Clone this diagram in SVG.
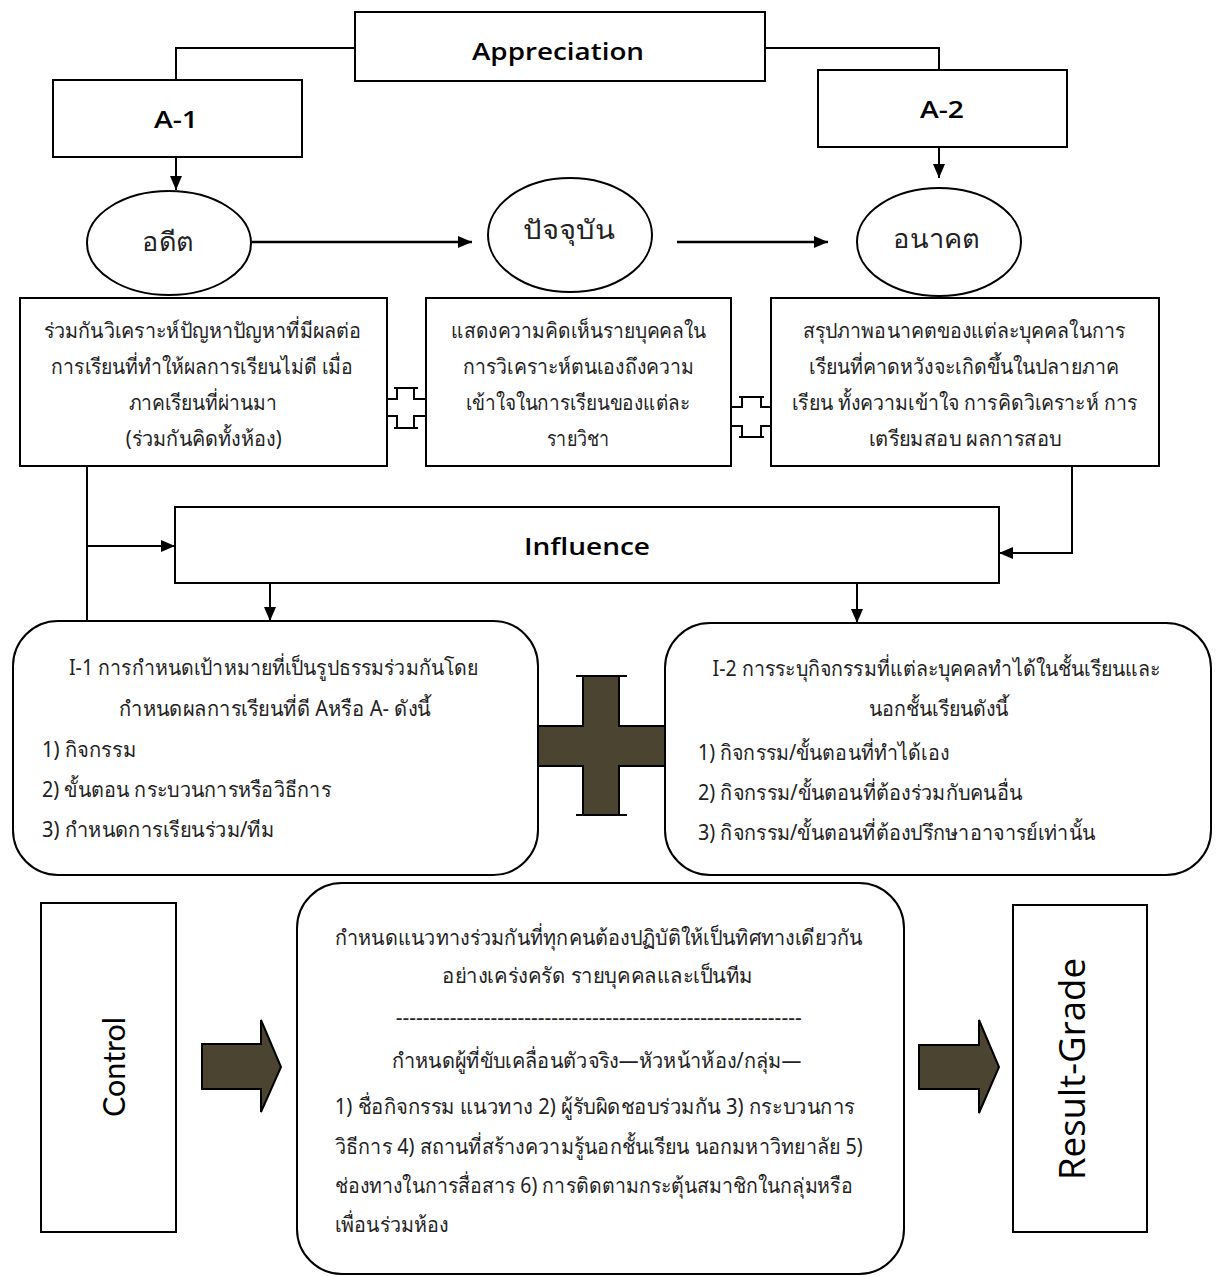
<svg xmlns="http://www.w3.org/2000/svg" width="1219" height="1276" viewBox="0 0 1219 1276">
<defs>
<marker id="ah" markerWidth="14" markerHeight="12" refX="14" refY="6" orient="auto" markerUnits="userSpaceOnUse"><path d="M0,0 L14,6 L0,12 Z" fill="#000"/></marker>
<style>
.box{fill:#fff;stroke:#000;stroke-width:2}
.ln{fill:none;stroke:#000;stroke-width:2}
.lnb{fill:none;stroke:#000;stroke-width:2.6}
.dark{fill:#4b4430;stroke:#000;stroke-width:2}
.lat{font-family:"Open Sans","Noto Sans",sans-serif;font-weight:600;font-size:24px;fill:#000}
.th{font-family:"Noto Sans","DejaVu Sans",sans-serif;font-size:21px;fill:#222}
.thl{font-family:"Noto Sans","DejaVu Sans",sans-serif;font-size:26px;fill:#222}
</style>
</defs>
<g id="connectors">
<path class="ln" d="M356,48 H176 V80"/>
<path class="ln" d="M766,48 H939 V70"/>
<path class="ln" d="M176,157 V190" marker-end="url(#ah)"/>
<path class="ln" d="M939,147 V178" marker-end="url(#ah)"/>
<path class="lnb" d="M252,242 H472" marker-end="url(#ah)"/>
<path class="lnb" d="M677,242 H828" marker-end="url(#ah)"/>
<path class="ln" d="M87,466 V621"/>
<path class="ln" d="M87,546 H175" marker-end="url(#ah)"/>
<path class="ln" d="M1072,466 V553 H999" marker-end="url(#ah)"/>
<path class="ln" d="M270,583 V621" marker-end="url(#ah)"/>
<path class="ln" d="M857,583 V623" marker-end="url(#ah)"/>
<g id="cross-1">
<path class="box" d="M397,388 H414 V399 H426 V416 H414 V428 H397 V416 H387 V399 H397 Z"/>
<path class="ln" d="M394,388 H418 M394,428 H418"/>
</g>
<g id="cross-2">
<path class="box" d="M742,397 H761 V407 H771 V426 H761 V437 H742 V426 H731 V407 H742 Z"/>
<path class="ln" d="M739,397 H764 M739,437 H764"/>
</g>
<g id="cross-big">
<path class="dark" d="M583,676 H619 V726 H666 V766 H619 V815 H583 V766 H538 V726 H583 Z"/>
<path class="ln" d="M576,676 H627 M576,815 H627"/>
</g>
<path id="arrow-1" class="dark" stroke-width="1.5" d="M202,1044 H261 V1020 L281,1067 L261,1112 V1089 H202 Z"/>
<path id="arrow-2" class="dark" stroke-width="1.5" d="M919,1045 H979 V1020 L999,1067 L979,1113 V1089 H919 Z"/>
</g>
<g id="appreciation">
<rect class="box" x="355" y="12" width="410" height="69"/>
<text class="lat" x="472" y="60" textLength="172" lengthAdjust="spacingAndGlyphs">Appreciation</text>
</g>
<g id="a1">
<rect class="box" x="53" y="80" width="249" height="77"/>
<text class="lat" x="154" y="128" textLength="44" lengthAdjust="spacingAndGlyphs">A-1</text>
</g>
<g id="a2">
<rect class="box" x="818" y="70" width="249" height="77"/>
<text class="lat" x="920" y="118" textLength="44" lengthAdjust="spacingAndGlyphs">A-2</text>
</g>
<g id="past">
<ellipse class="box" cx="169" cy="243" rx="82" ry="52"/>
<text class="thl" x="142" y="251" textLength="52" lengthAdjust="spacingAndGlyphs">อดีต</text>
</g>
<g id="present">
<ellipse class="box" cx="570" cy="235" rx="82" ry="57"/>
<text class="thl" x="523" y="239" textLength="92" lengthAdjust="spacingAndGlyphs">ปัจจุบัน</text>
</g>
<g id="future">
<ellipse class="box" cx="939" cy="242" rx="82" ry="54"/>
<text class="thl" x="893" y="248" textLength="87" lengthAdjust="spacingAndGlyphs">อนาคต</text>
</g>
<g id="box-past">
<rect class="box" x="20" y="298" width="367" height="168"/>
<text class="th" x="43.5" y="338" textLength="318" lengthAdjust="spacingAndGlyphs">ร่วมกันวิเคราะห์ปัญหาปัญหาที่มีผลต่อ</text>
<text class="th" x="51.4" y="374" textLength="302" lengthAdjust="spacingAndGlyphs">การเรียนที่ทำให้ผลการเรียนไม่ดี เมื่อ</text>
<text class="th" x="128.5" y="410" textLength="148" lengthAdjust="spacingAndGlyphs">ภาคเรียนที่ผ่านมา</text>
<text class="th" x="125.7" y="446" textLength="156" lengthAdjust="spacingAndGlyphs">(ร่วมกันคิดทั้งห้อง)</text>
</g>
<g id="box-present">
<rect class="box" x="426" y="298" width="305" height="168"/>
<text class="th" x="451" y="338" textLength="255" lengthAdjust="spacingAndGlyphs">แสดงความคิดเห็นรายบุคคลใน</text>
<text class="th" x="463" y="374" textLength="231" lengthAdjust="spacingAndGlyphs">การวิเคราะห์ตนเองถึงความ</text>
<text class="th" x="466" y="410" textLength="224" lengthAdjust="spacingAndGlyphs">เข้าใจในการเรียนของแต่ละ</text>
<text class="th" x="547" y="446" textLength="62" lengthAdjust="spacingAndGlyphs">รายวิชา</text>
</g>
<g id="box-future">
<rect class="box" x="771" y="298" width="388" height="168"/>
<text class="th" x="803" y="338" textLength="322" lengthAdjust="spacingAndGlyphs">สรุปภาพอนาคตของแต่ละบุคคลในการ</text>
<text class="th" x="809" y="374" textLength="310" lengthAdjust="spacingAndGlyphs">เรียนที่คาดหวังจะเกิดขึ้นในปลายภาค</text>
<text class="th" x="792" y="410" textLength="345" lengthAdjust="spacingAndGlyphs">เรียน ทั้งความเข้าใจ การคิดวิเคราะห์ การ</text>
<text class="th" x="868.5" y="446" textLength="193" lengthAdjust="spacingAndGlyphs">เตรียมสอบ ผลการสอบ</text>
</g>
<g id="influence">
<rect class="box" x="175" y="507" width="824" height="76"/>
<text class="lat" x="524" y="555" textLength="126" lengthAdjust="spacingAndGlyphs">Influence</text>
</g>
<g id="i1">
<rect class="box" x="13" y="621" width="525" height="254" rx="45" ry="45"/>
<text class="th" x="69" y="675" textLength="409" lengthAdjust="spacingAndGlyphs">I-1 การกำหนดเป้าหมายที่เป็นรูปธรรมร่วมกันโดย</text>
<text class="th" x="118.6" y="716" textLength="312" lengthAdjust="spacingAndGlyphs">กำหนดผลการเรียนที่ดี Aหรือ A- ดังนี้</text>
<text class="th" x="42" y="757" textLength="94" lengthAdjust="spacingAndGlyphs">1) กิจกรรม</text>
<text class="th" x="42" y="797" textLength="289" lengthAdjust="spacingAndGlyphs">2) ขั้นตอน กระบวนการหรือวิธีการ</text>
<text class="th" x="42" y="837" textLength="232" lengthAdjust="spacingAndGlyphs">3) กำหนดการเรียนร่วม/ทีม</text>
</g>
<g id="i2">
<rect class="box" x="665" y="623" width="546" height="252" rx="45" ry="45"/>
<text class="th" x="712.5" y="676" textLength="448" lengthAdjust="spacingAndGlyphs">I-2 การระบุกิจกรรมที่แต่ละบุคคลทำได้ในชั้นเรียนและ</text>
<text class="th" x="868.5" y="716" textLength="140" lengthAdjust="spacingAndGlyphs">นอกชั้นเรียนดังนี้</text>
<text class="th" x="698" y="760" textLength="251" lengthAdjust="spacingAndGlyphs">1) กิจกรรม/ขั้นตอนที่ทำได้เอง</text>
<text class="th" x="698" y="800" textLength="324" lengthAdjust="spacingAndGlyphs">2) กิจกรรม/ขั้นตอนที่ต้องร่วมกับคนอื่น</text>
<text class="th" x="698" y="840" textLength="397" lengthAdjust="spacingAndGlyphs">3) กิจกรรม/ขั้นตอนที่ต้องปรึกษาอาจารย์เท่านั้น</text>
</g>
<g id="control">
<rect class="box" x="41" y="903" width="135" height="329"/>
<text transform="translate(125,1067) rotate(-90)" x="0" y="0" text-anchor="middle" font-family="Lato, 'Open Sans', sans-serif" font-size="30" fill="#000" textLength="100" lengthAdjust="spacingAndGlyphs">Control</text>
</g>
<g id="guideline">
<rect class="box" x="297" y="883" width="607" height="391" rx="45" ry="45"/>
<text class="th" x="334.7" y="945" textLength="528" lengthAdjust="spacingAndGlyphs">กำหนดแนวทางร่วมกันที่ทุกคนต้องปฏิบัติให้เป็นทิศทางเดียวกัน</text>
<text class="th" x="442" y="983" textLength="311" lengthAdjust="spacingAndGlyphs">อย่างเคร่งครัด รายบุคคลและเป็นทีม</text>
<text class="th" x="395.7" y="1025" textLength="406" lengthAdjust="spacingAndGlyphs">------------------------------------------------------------</text>
<text class="th" x="391.5" y="1068" textLength="410" lengthAdjust="spacingAndGlyphs">กำหนดผู้ที่ขับเคลื่อนตัวจริง—หัวหน้าห้อง/กลุ่ม—</text>
<text class="th" x="334.7" y="1114" textLength="520" lengthAdjust="spacingAndGlyphs">1) ชื่อกิจกรรม แนวทาง 2) ผู้รับผิดชอบร่วมกัน 3) กระบวนการ</text>
<text class="th" x="334.7" y="1154" textLength="528" lengthAdjust="spacingAndGlyphs">วิธีการ 4) สถานที่สร้างความรู้นอกชั้นเรียน นอกมหาวิทยาลัย 5)</text>
<text class="th" x="334.7" y="1193" textLength="518" lengthAdjust="spacingAndGlyphs">ช่องทางในการสื่อสาร 6) การติดตามกระตุ้นสมาชิกในกลุ่มหรือ</text>
<text class="th" x="334.7" y="1232" textLength="114" lengthAdjust="spacingAndGlyphs">เพื่อนร่วมห้อง</text>
</g>
<g id="result">
<rect class="box" x="1013" y="905" width="134" height="327"/>
<text transform="translate(1085,1069) rotate(-90)" x="0" y="0" text-anchor="middle" font-family="'Open Sans', 'Noto Sans', sans-serif" font-size="37" fill="#000" textLength="222" lengthAdjust="spacingAndGlyphs">Result-Grade</text>
</g>
</svg>
